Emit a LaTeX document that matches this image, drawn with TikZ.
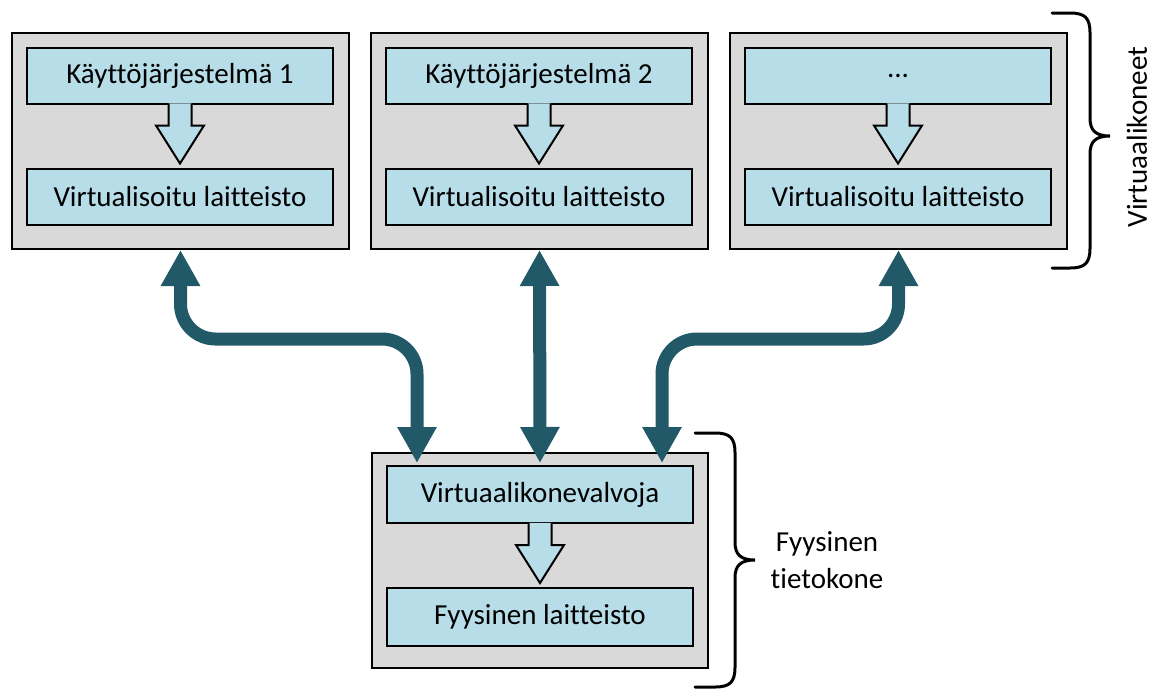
\documentclass[tikz,border=0pt]{standalone}
\usepackage{fontspec}
\setmainfont{Carlito}[Ligatures=NoCommon]
\usetikzlibrary{arrows.meta,calc}

\definecolor{boxgray}{HTML}{D9D9D9}
\definecolor{layerblue}{HTML}{B7DDE8}
\definecolor{linkteal}{HTML}{215968}

\tikzset{
  machine/.style={draw=black, line width=2pt, fill=boxgray, minimum width=337pt,
    minimum height=216pt, inner sep=0pt},
  layer/.style={draw=black, line width=2pt, fill=layerblue, minimum width=306pt,
    minimum height=56pt, inner sep=0pt, font=\fontsize{29}{34}\selectfont},
  link/.style={linkteal, line width=13pt, rounded corners=35pt,
    {Triangle[width=37pt,length=36pt]}-{Triangle[width=37pt,length=36pt]}},
  bracket/.style={draw=black, line width=3pt, line cap=round},
  blockedge/.style={draw=black, line width=2pt, line join=miter},
  sidelabel/.style={font=\fontsize{29}{37}\selectfont, align=center, inner sep=0pt}
}

% hollow block arrow hanging from the bottom edge of a layer box
\newcommand{\layerflow}[1]{%
  \fill[layerblue] ($(#1)+(-11.5,-1.2)$) -- ($(#1)+(-11.5,21)$) -- ($(#1)+(-24,21)$)
    -- ($(#1)+(0,59)$) -- ($(#1)+(24,21)$) -- ($(#1)+(11.5,21)$)
    -- ($(#1)+(11.5,-1.2)$) -- cycle;
  \draw[blockedge] ($(#1)+(-11.5,-1)$) -- ($(#1)+(-11.5,21)$) -- ($(#1)+(-24,21)$)
    -- ($(#1)+(0,59)$) -- ($(#1)+(24,21)$) -- ($(#1)+(11.5,21)$)
    -- ($(#1)+(11.5,-1)$);}

\begin{document}
\begin{tikzpicture}[x=1pt,y=-1pt]
\useasboundingbox (0,0) rectangle (1158,689);

% virtual machines
\node[machine] (m1) at (180.5,141) {};
\node[machine] (m2) at (539.5,141) {};
\node[machine] (m3) at (898.5,141) {};

\node[layer] (k1) at (180,75.5) {Käyttöjärjestelmä 1};
\node[layer] (v1) at (180,196.5) {Virtualisoitu laitteisto};
\node[layer] (k2) at (539,75.5) {Käyttöjärjestelmä 2};
\node[layer] (v2) at (539,196.5) {Virtualisoitu laitteisto};
\node[layer] (k3) at (898,75.5) {...};
\node[layer] (v3) at (898,196.5) {Virtualisoitu laitteisto};

\layerflow{k1.south}
\layerflow{k2.south}
\layerflow{k3.south}

% physical computer
\node[machine, minimum width=336pt, minimum height=215pt] (pc) at (540,560.5) {};
\node[layer, minimum height=57pt] (hv) at (540,494.5) {Virtuaalikonevalvoja};
\node[layer, minimum height=58pt] (hw) at (540,617) {Fyysinen laitteisto};
\layerflow{hv.south}

% links between machines and the hypervisor
\draw[link] (m1.south) -- ++(0,89) -| ($(hv.north)+(-123,-2)$);
\draw[link] (m2.south) -- ($(hv.north)+(0,-2)$);
\draw[link] (m3.south) -- ++(0,89) -| ($(hv.north)+(122,-2)$);

% braces and their labels
\draw[bracket] (1052,13) -- (1070,13) .. controls (1085,13) and (1090,18) .. (1090,33)
  -- (1090,118) .. controls (1090,130) and (1095,136) .. (1110,136)
  .. controls (1095,136) and (1090,142) .. (1090,154)
  -- (1090,248) .. controls (1090,263) and (1085,268) .. (1070,268) -- (1052,268);
\node[sidelabel, rotate=90] (vmlabel) at (1137,137) {Virtuaalikoneet};

\draw[bracket] (695,433) -- (715,433) .. controls (730,433) and (735,438) .. (735,453)
  -- (735,542) .. controls (735,554) and (740,560) .. (755,560)
  .. controls (740,560) and (735,566) .. (735,578)
  -- (735,667) .. controls (735,682) and (730,687) .. (715,687) -- (695,687);
\node[sidelabel] (pclabel) at (827,560) {Fyysinen\\tietokone};
\end{tikzpicture}
\end{document}
